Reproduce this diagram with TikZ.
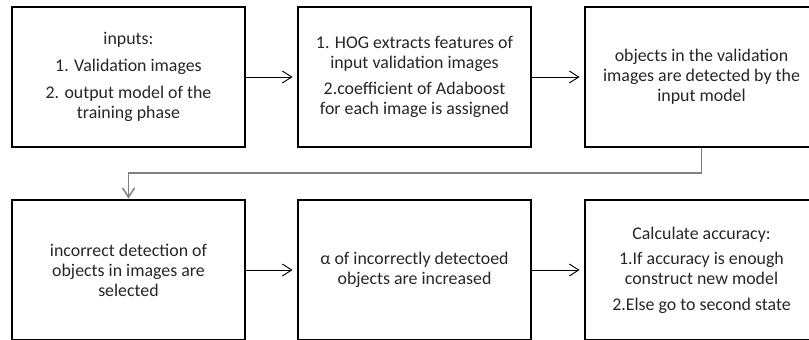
\documentclass[tikz,border=0pt]{standalone}
\usepackage{fontspec}
\setmainfont{Carlito}
\usetikzlibrary{arrows.meta}
\tikzset{
  stepbox/.style={draw=black, line width=1.2pt, minimum width=174.75pt, minimum height=105pt,
    align=center, inner sep=0pt, font=\fontsize{13.4}{15}\selectfont, text=black!85},
  arr/.style={line width=0.7pt, -{Straight Barb[length=7pt,width=9pt]}, shorten >=3.5pt},
  conn/.style={draw=black!50, line width=1.1pt, -{Straight Barb[length=7pt,width=9pt]}, shorten >=0.5pt}
}
\begin{document}
\begin{tikzpicture}[x=0.75pt,y=-0.75pt]
\useasboundingbox (0,0) rectangle (809,339);
\clip (0,0) rectangle (809,339);
\node[stepbox] (b1) at (128.5,77) {inputs:\\[5pt]1. Validation images\\[5pt]2. output model of the\\training phase};
\node[stepbox] (b2) at (414.5,77) {1. HOG extracts features of\\input validation images\\[5pt]2.coefficient of Adaboost\\for each image is assigned};
\node[stepbox] (b3) at (701.5,77) {objects in the validation\\images are detected by the\\input model};
\node[stepbox] (b4) at (128.5,270) {incorrect detection of\\objects in images are\\selected};
\node[stepbox] (b5) at (414.5,270) {α of incorrectly detectoed\\objects are increased};
\node[stepbox] (b6) at (701.5,270) {Calculate accuracy:\\[4pt]1.If accuracy is enough\\construct new model\\[4pt]2.Else go to second state};
\draw[arr] (b1) -- (b2);
\draw[arr] (b2) -- (b3);
\draw[arr] (b4) -- (b5);
\draw[arr] (b5) -- (b6);
\coordinate (c1) at (701.5,173);
\draw[conn] (b3.south) -- (c1) -| (b4.north);
\end{tikzpicture}
\end{document}
